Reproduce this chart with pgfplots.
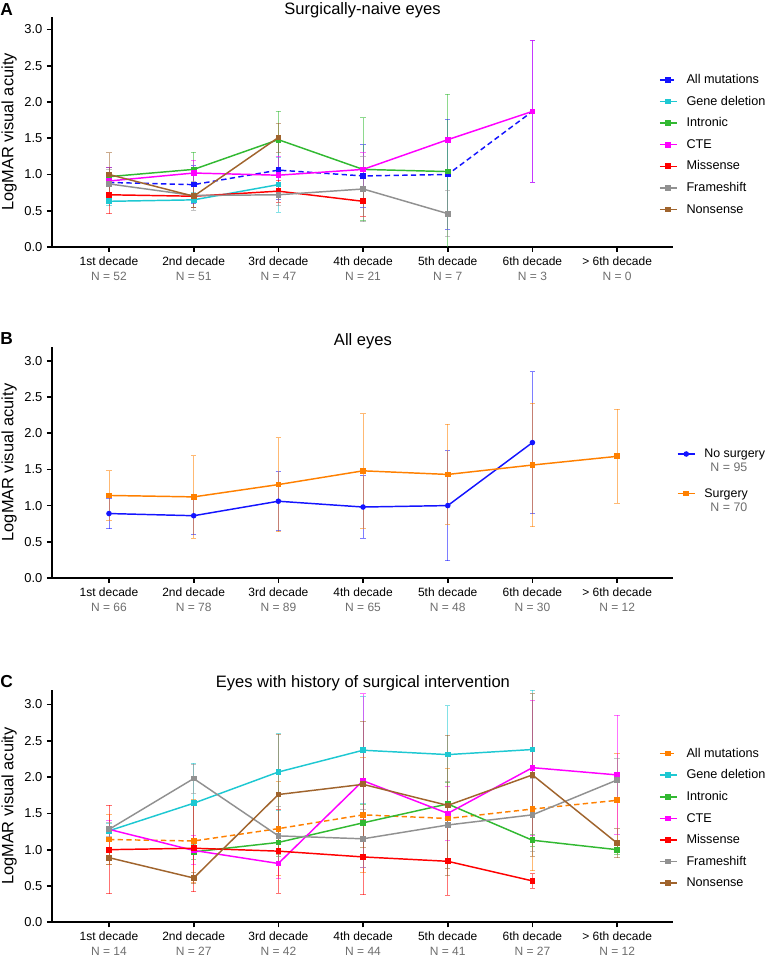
\documentclass[border=0pt]{standalone}
\usepackage{fontspec}
\setmainfont{Liberation Sans}
\usepackage{pgfplots}
\usepackage{pgfplotstable}
\pgfplotsset{compat=1.18}
\definecolor{cBlue}{RGB}{20,20,255}
\definecolor{cCyan}{RGB}{30,200,210}
\definecolor{cGreen}{RGB}{50,185,50}
\definecolor{cMag}{RGB}{255,0,255}
\definecolor{cRed}{RGB}{255,0,0}
\definecolor{cGrey}{RGB}{145,145,145}
\definecolor{cBrown}{RGB}{160,100,45}
\definecolor{cOrange}{RGB}{255,128,0}
\definecolor{cN}{RGB}{110,110,110}
\newcommand\lstrut{\rule{0pt}{14.7pt}}
\newcommand\bstrutA{\rule{0pt}{7.5pt}}
\newcommand\bstrutB{\rule{0pt}{9pt}}
\newcommand\bstrutC{\rule{0pt}{17.7pt}}

% ---------- Panel A data ----------
\pgfplotstableread{
x y e
1 0.89 0.21
2 0.86 0.26
3 1.06 0.41
4 0.98 0.43
5 1.00 0.76
6 1.87 0.98
}\Aall
\pgfplotstableread{
x y e
1 0.63 0.06
2 0.65 0.10
3 0.86 0.38
}\Agene
\pgfplotstableread{
x y e
1 0.97 0.12
2 1.07 0.24
3 1.48 0.39
4 1.07 0.71
5 1.04 1.07
}\Aintr
\pgfplotstableread{
x y e
1 0.91 0.18
2 1.02 0.18
3 0.99 0.26
4 1.07 0.23
5 1.48 0.00
6 1.87 0.98
}\Acte
\pgfplotstableread{
x y e
1 0.72 0.26
2 0.70 0.15
3 0.77 0.15
4 0.63 0.21
}\Amis
\pgfplotstableread{
x y e
1 0.87 0.20
2 0.71 0.20
3 0.72 0.15
4 0.80 0.45
5 0.46 0.32
}\Afra
\pgfplotstableread{
x y e
1 1.00 0.30
2 0.70 0.15
3 1.51 0.20
}\Anon
% ---------- Panel B data ----------
\pgfplotstableread{
x y e
1 0.89 0.21
2 0.86 0.26
3 1.06 0.41
4 0.98 0.43
5 1.00 0.76
6 1.87 0.98
}\Bno
\pgfplotstableread{
x y e
1 1.14 0.34
2 1.12 0.57
3 1.29 0.65
4 1.48 0.79
5 1.43 0.69
6 1.56 0.85
7 1.68 0.65
}\Bsur
% ---------- Panel C data ----------
\pgfplotstableread{
x y e
1 1.26 0.10
2 1.64 0.55
3 2.07 0.53
4 2.37 0.74
5 2.31 0.67
6 2.38 0.82
}\Cgene
\pgfplotstableread{
x y e
2 0.97 0.10
3 1.10 0.20
4 1.37 0.25
5 1.63 0.30
6 1.13 0.08
7 1.00 0.06
}\Cintr
\pgfplotstableread{
x y e
1 1.28 0.12
2 0.99 0.20
3 0.81 0.20
4 1.95 1.20
5 1.50 0.37
6 2.13 0.93
7 2.03 0.82
}\Ccte
\pgfplotstableread{
x y e
1 1.00 0.61
2 1.02 0.60
3 0.98 0.58
4 0.90 0.52
5 0.84 0.47
6 0.57 0.10
}\Cmis
\pgfplotstableread{
x y e
1 1.28 0.10
2 1.98 0.20
3 1.19 0.40
4 1.15 0.40
5 1.34 0.60
6 1.48 0.50
7 1.96 0.30
}\Cfra
\pgfplotstableread{
x y e
1 0.89 0.10
2 0.61 0.08
3 1.76 0.83
4 1.90 0.87
5 1.61 0.97
6 2.03 1.12
7 1.09 0.20
}\Cnon

\pgfplotsset{
 panel/.style={
  scale only axis, width=465.75pt,
  axis lines=left, axis line style={line width=1.3pt,-},
  xmin=0.327, xmax=7.66, ymin=0,
  xtick={1,...,7}, ytick={0,0.5,...,3},
  tick align=outside, major tick length=3.75pt,
  every tick/.style={black, line width=1.3pt},
  /pgf/number format/assume math mode=true,
  yticklabel style={/pgf/number format/fixed,/pgf/number format/fixed zerofill,/pgf/number format/precision=1, font=\fontsize{9.7}{11}\selectfont},
  xticklabel style={align=center, font=\fontsize{9}{11.25}\selectfont},
  ylabel={LogMAR visual acuity},
  ylabel style={at={(axis description cs:-0.0692,0.5)}, anchor=center, font=\fontsize{12.3}{14}\selectfont},
  legend style={draw=none, fill=none, anchor=north west, inner sep=0pt, outer sep=0pt,
     font=\fontsize{9.5}{11}\selectfont, row sep=0pt, nodes={inner sep=0pt},
     /tikz/every odd column/.append style={column sep=6.75pt}},
  legend cell align=left,
  legend image code/.code={\draw[mark repeat=2,mark phase=2,##1,yshift=-3.9pt] plot coordinates {(0pt,0pt) (6.4pt,0pt) (12.75pt,0pt)};},
 },
 limgNo/.style={legend image code/.code={\draw[mark repeat=2,mark phase=2,##1,yshift=-0.4pt] plot coordinates {(0pt,0pt) (6.4pt,0pt) (12.75pt,0pt)};}},
 limgSur/.style={legend image code/.code={\draw[mark repeat=2,mark phase=2,##1,yshift=-5.4pt] plot coordinates {(0pt,0pt) (6.4pt,0pt) (12.75pt,0pt)};}},
 ser/.style={color=#1, line width=1.1pt, mark=square*, mark size=1.6pt, mark options={solid},
   error bars/y dir=both, error bars/y explicit,
   error bars/error bar style={line width=0.7pt, #1, opacity=0.55, solid},
   error bars/error mark options={rotate=90, mark size=2pt, line width=0.7pt, #1, opacity=0.55, solid}},
}

\begin{document}
\begin{tikzpicture}
\path[use as bounding box] (0,0) rectangle (573.75pt,717pt);

% ================= Panel A =================
\begin{axis}[panel, at={(39pt,531.75pt)}, anchor=south west, height=172.5pt, ymax=3.172,
  xticklabels={{1st decade\\\textcolor{cN}{N = 52}},{2nd decade\\\textcolor{cN}{N = 51}},{3rd decade\\\textcolor{cN}{N = 47}},{4th decade\\\textcolor{cN}{N = 21}},{5th decade\\\textcolor{cN}{N = 7}},{6th decade\\\textcolor{cN}{N = 3}},{> 6th decade\\\textcolor{cN}{N = 0}}},
  legend style={at={(axis description cs:0.9775,0.796)}}]
\addplot[ser=cBlue, dash pattern=on 4pt off 2.5pt] table[x=x,y=y,y error=e]{\Aall};
\addlegendentry{\lstrut All mutations}
\addplot[ser=cCyan] table[x=x,y=y,y error=e]{\Agene};
\addlegendentry{\lstrut Gene deletion}
\addplot[ser=cGreen] table[x=x,y=y,y error=e]{\Aintr};
\addlegendentry{\lstrut Intronic}
\addplot[ser=cMag] table[x=x,y=y,y error=e]{\Acte};
\addlegendentry{\lstrut CTE}
\addplot[ser=cRed] table[x=x,y=y,y error=e]{\Amis};
\addlegendentry{\lstrut Missense}
\addplot[ser=cGrey] table[x=x,y=y,y error=e]{\Afra};
\addlegendentry{\lstrut Frameshift}
\addplot[ser=cBrown] table[x=x,y=y,y error=e]{\Anon};
\addlegendentry{\lstrut Nonsense}
\end{axis}

% ================= Panel B =================
\begin{axis}[panel, at={(39pt,283.5pt)}, anchor=south west, height=173.25pt, ymax=3.19,
  xticklabels={{1st decade\\\textcolor{cN}{N = 66}},{2nd decade\\\textcolor{cN}{N = 78}},{3rd decade\\\textcolor{cN}{N = 89}},{4th decade\\\textcolor{cN}{N = 65}},{5th decade\\\textcolor{cN}{N = 48}},{6th decade\\\textcolor{cN}{N = 30}},{> 6th decade\\\textcolor{cN}{N = 12}}},
  legend style={at={(axis description cs:1.0064,0.565)}, font=\fontsize{9.3}{11}\selectfont}]
\addplot[ser=cBlue, mark=*, mark size=1.5pt, limgNo] table[x=x,y=y,y error=e]{\Bno};
\addlegendentry{\bstrutA No surgery}
\addlegendimage{empty legend}
\addlegendentry{\bstrutB\hspace*{4.5pt}\textcolor{cN}{N = 95}}
\addplot[ser=cOrange, limgSur] table[x=x,y=y,y error=e]{\Bsur};
\addlegendentry{\bstrutC Surgery}
\addlegendimage{empty legend}
\addlegendentry{\bstrutB\hspace*{4.5pt}\textcolor{cN}{N = 70}}
\end{axis}

% ================= Panel C =================
\begin{axis}[panel, at={(39pt,25.3pt)}, anchor=south west, height=174.2pt, ymax=3.2,
  xticklabels={{1st decade\\\textcolor{cN}{N = 14}},{2nd decade\\\textcolor{cN}{N = 27}},{3rd decade\\\textcolor{cN}{N = 42}},{4th decade\\\textcolor{cN}{N = 44}},{5th decade\\\textcolor{cN}{N = 41}},{6th decade\\\textcolor{cN}{N = 27}},{> 6th decade\\\textcolor{cN}{N = 12}}},
  legend style={at={(axis description cs:0.9775,0.795)}}]
\addplot[ser=cOrange, dash pattern=on 4pt off 2.5pt] table[x=x,y=y,y error=e]{\Bsur};
\addlegendentry{\lstrut All mutations}
\addplot[ser=cCyan] table[x=x,y=y,y error=e]{\Cgene};
\addlegendentry{\lstrut Gene deletion}
\addplot[ser=cGreen] table[x=x,y=y,y error=e]{\Cintr};
\addlegendentry{\lstrut Intronic}
\addplot[ser=cMag] table[x=x,y=y,y error=e]{\Ccte};
\addlegendentry{\lstrut CTE}
\addplot[ser=cRed] table[x=x,y=y,y error=e]{\Cmis};
\addlegendentry{\lstrut Missense}
\addplot[ser=cGrey] table[x=x,y=y,y error=e]{\Cfra};
\addlegendentry{\lstrut Frameshift}
\addplot[ser=cBrown] table[x=x,y=y,y error=e]{\Cnon};
\addlegendentry{\lstrut Nonsense}
\end{axis}

% titles and panel letters
\node[font=\fontsize{12.4}{14}\selectfont] at (271.9pt,709.5pt) {Surgically-naive eyes};
\node[font=\fontsize{12.4}{14}\selectfont] at (272.2pt,461.25pt) {All eyes};
\node[font=\fontsize{12.4}{14}\selectfont] at (272.2pt,204.75pt) {Eyes with history of surgical intervention};
\node[font=\bfseries\fontsize{13}{15}\selectfont, anchor=west, inner sep=0pt] at (0pt,709.5pt) {A};
\node[font=\bfseries\fontsize{13}{15}\selectfont, anchor=west, inner sep=0pt] at (0pt,462.75pt) {B};
\node[font=\bfseries\fontsize{13}{15}\selectfont, anchor=west, inner sep=0pt] at (0pt,205.9pt) {C};
\end{tikzpicture}
\end{document}
